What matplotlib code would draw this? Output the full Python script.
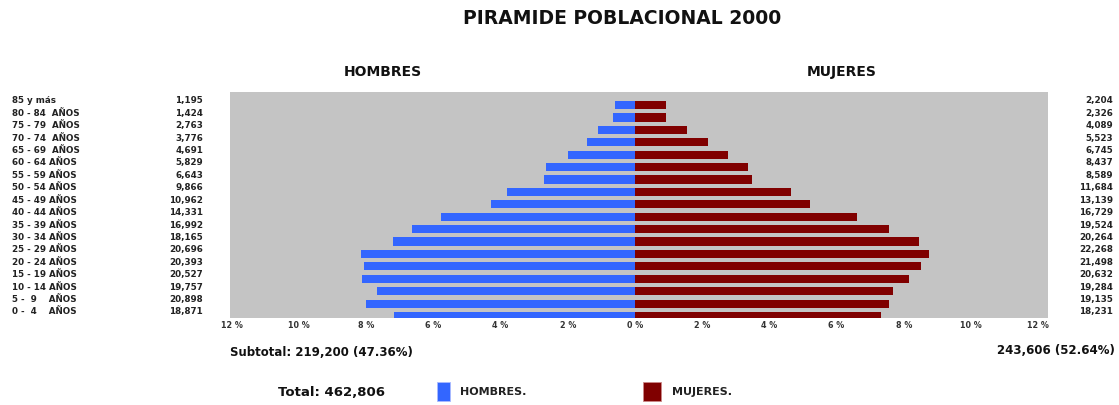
import matplotlib
matplotlib.use("Agg")
import matplotlib.pyplot as plt
from matplotlib.patches import Rectangle
from matplotlib.transforms import blended_transform_factory

# ---------------- data (top row first) ----------------
age_labels = ["85 y más", "80 - 84  AÑOS", "75 - 79  AÑOS", "70 - 74  AÑOS",
              "65 - 69  AÑOS", "60 - 64 AÑOS", "55 - 59 AÑOS", "50 - 54 AÑOS",
              "45 - 49 AÑOS", "40 - 44 AÑOS", "35 - 39 AÑOS", "30 - 34 AÑOS",
              "25 - 29 AÑOS", "20 - 24 AÑOS", "15 - 19 AÑOS", "10 - 14 AÑOS",
              "5 -  9    AÑOS", "0 -  4    AÑOS"]
men_counts = ["1,195", "1,424", "2,763", "3,776", "4,691", "5,829", "6,643",
              "9,866", "10,962", "14,331", "16,992", "18,165", "20,696",
              "20,393", "20,527", "19,757", "20,898", "18,871"]
women_counts = ["2,204", "2,326", "4,089", "5,523", "6,745", "8,437", "8,589",
                "11,684", "13,139", "16,729", "19,524", "20,264", "22,268",
                "21,498", "20,632", "19,284", "19,135", "18,231"]
# bar lengths in percent as drawn in the picture
men_pct = [0.60, 0.66, 1.09, 1.44, 1.99, 2.65, 2.70, 3.82, 4.29, 5.78, 6.62,
           7.21, 8.16, 8.06, 8.12, 7.69, 7.99, 7.16]
women_pct = [0.92, 0.92, 1.54, 2.18, 2.78, 3.37, 3.49, 4.63, 5.22, 6.60, 7.55,
             8.44, 8.74, 8.50, 8.15, 7.67, 7.55, 7.31]
tick_vals = [-12, -10, -8, -6, -4, -2, 0, 2, 4, 6, 8, 10, 12]
tick_labels = ["12 %", "10 %", "8 %", "6 %", "4 %", "2 %", "0 %",
               "2 %", "4 %", "6 %", "8 %", "10 %", "12 %"]
title = "PIRAMIDE POBLACIONAL 2000"
left_header = "HOMBRES"
right_header = "MUJERES"
subtotal_men = "Subtotal: 219,200 (47.36%)"
subtotal_women = "243,606 (52.64%)"
total_text = "Total: 462,806"
legend_labels = ["HOMBRES.", "MUJERES."]

BLUE = "#3366ff"
RED = "#800000"
GRAY = "#c4c4c4"

plt.rcParams['font.family'] = ['DejaVu Sans']

W, H = 1119, 405
fig = plt.figure(figsize=(W / 100, H / 100), dpi=100)
fig.patch.set_facecolor("white")


def fx(px):
    return px / W


def fy(py):
    return 1 - py / H


ax_l, ax_r, ax_t, ax_b = 230, 1048, 92, 318
ax = fig.add_axes([fx(ax_l), fy(ax_b), fx(ax_r - ax_l), (ax_b - ax_t) / H])
ax.set_facecolor(GRAY)
for s in ax.spines.values():
    s.set_visible(False)

n = len(age_labels)
ypos = [n - 1 - i for i in range(n)]
ax.barh(ypos, [-v for v in men_pct], height=0.66, color=BLUE, linewidth=0)
ax.barh(ypos, women_pct, height=0.66, color=RED, linewidth=0)
ax.set_xlim(-12.05, 12.29)
ax.set_ylim(-0.16, n - 1 + 1.05)
ax.set_yticks([])
ax.set_xticks(tick_vals)
ax.set_xticklabels(tick_labels, fontsize=5.8, fontweight="bold", color="#333333")
ax.tick_params(axis="x", length=0, pad=2)

# row labels (left: age group and male count, right: female count)
tr = blended_transform_factory(fig.transFigure, ax.transData)
lbl_off = 0.33
for y, lab, mc, wc in zip(ypos, age_labels, men_counts, women_counts):
    yy = y + lbl_off
    fig.text(fx(12), yy, lab, transform=tr, fontsize=6.3, fontweight="bold",
             va="center", ha="left", color="#222222")
    fig.text(fx(203), yy, mc, transform=tr, fontsize=6.3, fontweight="bold",
             va="center", ha="right", color="#222222")
    fig.text(fx(1113), yy, wc, transform=tr, fontsize=6.3, fontweight="bold",
             va="center", ha="right", color="#222222")

# titles
fig.text(fx(622), fy(18), title, fontsize=13.5, fontweight="bold",
         ha="center", va="center", color="#111111")
fig.text(fx(383), fy(72), left_header, fontsize=10, fontweight="bold",
         ha="center", va="center", color="#111111")
fig.text(fx(842), fy(72), right_header, fontsize=10, fontweight="bold",
         ha="center", va="center", color="#111111")

# subtotals and total
fig.text(fx(230), fy(352), subtotal_men, fontsize=8.5, fontweight="bold",
         ha="left", va="center", color="#111111")
fig.text(fx(1115), fy(351), subtotal_women, fontsize=8.5, fontweight="bold",
         ha="right", va="center", color="#111111")
fig.text(fx(278), fy(392), total_text, fontsize=9.5, fontweight="bold",
         ha="left", va="center", color="#111111")

# legend
fig.patches.append(Rectangle((fx(437), fy(401)), fx(13), 19 / H,
                             transform=fig.transFigure, facecolor=BLUE,
                             edgecolor="#aabbff", linewidth=0.6))
fig.patches.append(Rectangle((fx(643), fy(401)), fx(18), 19 / H,
                             transform=fig.transFigure, facecolor=RED,
                             edgecolor="#cc8888", linewidth=0.6))
fig.text(fx(460), fy(392), legend_labels[0], fontsize=8, fontweight="bold",
         ha="left", va="center", color="#222222")
fig.text(fx(672), fy(392), legend_labels[1], fontsize=8, fontweight="bold",
         ha="left", va="center", color="#222222")

fig.savefig("out.png", dpi=100, facecolor="white")
